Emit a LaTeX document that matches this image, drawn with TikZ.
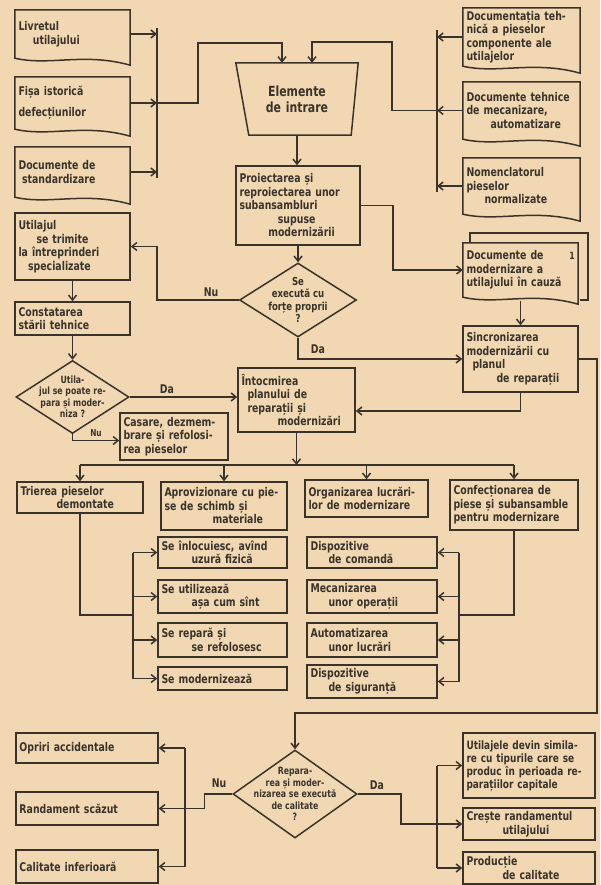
\documentclass[tikz,border=0pt]{standalone}
\usepackage{fontspec}
\setmainfont{DejaVu Sans}[FakeStretch=0.78]
\usetikzlibrary{arrows.meta,shapes.geometric,calc}
\definecolor{paper}{RGB}{241,216,178}
\definecolor{ink}{RGB}{58,51,44}
\newcommand\mydoc[1]{\draw[ln] let \p1=(#1.north west), \p2=(#1.south east) in
  (\x1,\y1) -- (\x2,\y1) -- (\x2,\y2-7pt) .. controls (\x2-0.4*\x2+0.4*\x1,\y2+6pt) and (\x1+0.3*\x2-0.3*\x1,\y2-8pt) .. (\x1,\y2) -- cycle;}
\begin{document}
\begin{tikzpicture}[x=1pt,y=-1pt,
  ln/.style={draw=ink,line width=1.5pt},
  base/.style={align=left,text=ink,inner xsep=3.5pt,inner ysep=1.5pt,font=\fontsize{12}{13.5}\selectfont\bfseries},
  bx/.style 2 args={base,rectangle,minimum width=#1,minimum height=#2,text width=#1-7pt},
  box/.style={ln},
  doc/.style={draw=none},
  dia/.style={ln,diamond,inner sep=0pt},
  dtxt/.style={align=center,text=ink,inner sep=0pt,font=\fontsize{11}{12.5}\selectfont\bfseries},
  arr/.style={ln,-{Straight Barb[length=5pt,width=8pt]}},
  lbl/.style={text=ink,inner sep=0pt,font=\fontsize{12}{13}\selectfont\bfseries}]
\fill[paper] (0,0) rectangle (600,885);
\useasboundingbox (0,0) rectangle (600,885);

% ---------- top left documents ----------
\node[bx={115pt}{48pt},doc] (d1) at (72.5,34) {Livretul\\\hspace*{1.2em}utilajului};
\node[bx={115pt}{52pt},doc] (d2) at (72.5,103) {Fișa istorică\\[7pt]defecțiunilor};
\node[bx={115pt}{50pt},doc] (d3) at (72.5,172) {Documente de\\\hspace*{0.3em}standardizare};
\mydoc{d1}\mydoc{d2}\mydoc{d3}

% ---------- top right documents ----------
\node[bx={117pt}{58pt},doc] (r1) at (521.5,37) {Documentația teh-\\nică a pieselor\\componente ale\\utilajelor};
\node[bx={117pt}{57pt},doc] (r2) at (521.5,110.5) {Documente tehnice\\de mecanizare,\\\hspace*{2em}automatizare};
\node[bx={117pt}{56pt},doc] (r3) at (521.5,186) {Nomenclatorul\\pieselor\\\hspace*{1.5em}normalizate};
\mydoc{r1}\mydoc{r2}\mydoc{r3}

% ---------- trapezium ----------
\node[bx={122pt}{72pt},doc,align=center,font=\fontsize{14}{16}\selectfont\bfseries] (te) at (297,99) {Elemente\\de intrare};
\draw[ln] (te.north west) -- (te.north east) -- ([xshift=-7pt]te.south east) -- ([xshift=13pt]te.south west) -- cycle;

% ---------- central column ----------
\node[bx={124pt}{79pt},box] (p1) at (298,205.5) {Proiectarea și\\reproiectarea unor\\subansambluri\\\hspace*{3.2em}supuse\\\hspace*{2.4em}modernizării};
\node[dia,minimum width=117pt,minimum height=74pt] (q1) at (298,300) {};
\node[dtxt] (q1t) at (q1.center) {Se\\execută cu\\forțe proprii\\?};

\node[bx={115pt}{67pt},box] (u1) at (72.5,246.5) {Utilajul\\\hspace*{1.5em}se trimite\\la întreprinderi\\\hspace*{0.8em}specializate};
\node[bx={115pt}{33pt},box] (c1) at (72.5,318.5) {Constatarea\\stării tehnice};
\node[dia,minimum width=113pt,minimum height=73pt] (q2) at (72.5,397) {};
\node[dtxt,font=\fontsize{10}{11.5}\selectfont\bfseries] (q2t) at (q2.center) {Utila-\\jul se poate re-\\para și moder-\\niza ?};
\node[bx={108pt}{47pt},box] (k1) at (174,436.5) {Casare, dezmem-\\brare și refolosi-\\rea pieselor};
\node[bx={117pt}{64pt},box] (i1) at (296.5,400) {Întocmirea\\\hspace*{0.5em}planului de\\\hspace*{0.5em}reparații și\\\hspace*{3em}modernizări};

% ---------- right middle ----------
\draw[ln] (470,243) -- (470,233) -- (588,233) -- (588,300) -- (580,300);
\node[bx={115pt}{54pt},doc] (m1) at (520.5,270) {Documente de\\modernizare a\\utilajului în cauză};
\mydoc{m1}
\node[lbl,font=\fontsize{10}{12}\selectfont\bfseries] (m1n) at (572,256) {1};
\node[bx={115pt}{66pt},box] (s1) at (520.5,359) {Sincronizarea\\modernizării cu\\\hspace*{0.5em}planul\\\hspace*{2.5em}de reparații};

% ---------- row of four ----------
\node[bx={126pt}{31pt},box] (t1) at (80,497.5) {Trierea pieselor\\\hspace*{3em}demontate};
\node[bx={126pt}{48pt},box] (a1) at (224,506) {Aprovizionare cu pie-\\se de schimb și\\\hspace*{4em}materiale};
\node[bx={123pt}{37pt},box] (o1) at (366.5,498.5) {Organizarea lucrări-\\lor de modernizare};
\node[bx={128pt}{50pt},box] (f1) at (514,505) {Confecționarea de\\piese și subansamble\\pentru modernizare};

% ---------- two columns ----------
\node[bx={129pt}{31pt},box] (b1) at (222.5,552.5) {Se înlocuiesc, avînd\\\hspace*{2.5em}uzură fizică};
\node[bx={129pt}{33pt},box] (b2) at (222.5,596.5) {Se utilizează\\\hspace*{2.5em}așa cum sînt};
\node[bx={129pt}{34pt},box] (b3) at (222.5,640) {Se repară și\\\hspace*{2.5em}se refolosesc};
\node[bx={129pt}{23pt},box] (b4) at (222.5,678.5) {Se modernizează};
\node[bx={130pt}{31pt},box] (e1) at (372,552.5) {Dispozitive\\\hspace*{1.5em}de comandă};
\node[bx={130pt}{33pt},box] (e2) at (372,596.5) {Mecanizarea\\\hspace*{1.5em}unor operații};
\node[bx={130pt}{34pt},box] (e3) at (372,640) {Automatizarea\\\hspace*{1.5em}unor lucrări};
\node[bx={130pt}{33pt},box] (e4) at (372,681.5) {Dispozitive\\\hspace*{1.5em}de siguranță};

% ---------- bottom ----------
\node[dia,minimum width=124pt,minimum height=88pt] (q3) at (295,794) {};
\node[dtxt,font=\fontsize{10}{11.5}\selectfont\bfseries] (q3t) at (q3.center) {Repara-\\rea și moder-\\nizarea se execută\\de calitate\\?};
\node[bx={142pt}{30pt},box] (l1) at (87,748) {Opriri accidentale};
\node[bx={142pt}{33pt},box] (l2) at (87,808.5) {Randament scăzut};
\node[bx={142pt}{33pt},box] (l3) at (87,866.5) {Calitate inferioară};
\node[bx={132pt}{65pt},box,font=\fontsize{11.5}{13}\selectfont\bfseries] (g1) at (529,765.5) {Utilajele devin simila-\\re cu tipurile care se\\produc în perioada re-\\parațiilor capitale};
\node[bx={132pt}{32pt},box] (g2) at (529,824) {Crește randamentul\\\hspace*{3em}utilajului};
\node[bx={132pt}{32pt},box] (g3) at (529,868) {Producție\\\hspace*{3em}de calitate};

% ---------- coordinates ----------
\coordinate (lbus) at (157,0);
\coordinate (lbt) at (157,28);
\coordinate (lbb) at (157,178);
\coordinate (rbus) at (437,0);
\coordinate (rbt) at (437,30);
\coordinate (rbb) at (437,192);
\coordinate (hz) at (0,465);
\coordinate (lb2) at (133,0);
\coordinate (j1) at (133,615);
\coordinate (rb2) at (459,0);
\coordinate (j2) at (459,615);
\coordinate (k713) at (0,713);
\coordinate (lb3) at (185,0);
\coordinate (rb3) at (437,0);

% ---------- connectors: top ----------
\draw[ln] (lbt) -- (lbb);
\foreach \n in {d1,d2,d3} \draw[arr] (\n.east) -- (\n.east -| lbus);
\draw[arr] (d2.east -| lbus) -- (198,103) |- (282,43) -- ([xshift=-15pt]te.north);
\draw[ln] (rbt) -- (rbb);
\foreach \n in {r1,r2,r3} \draw[arr] (\n.west) -- (\n.west -| rbus);
\draw[arr] (r2.west -| rbus) -- (392,110.5) |- (312,42) -- ([xshift=15pt]te.north);
\draw[arr] (te.south) -- (te.south |- p1.north);
\draw[arr] (p1.south) -- (q1.north);
\draw[arr] (p1.east) -- ++(32,0) |- (m1.west);
\draw[arr] (q1.west) -- (157,300) |- (u1.east);
\node[lbl] (nu1) at (211,292) {Nu};
\draw[arr] (q1.south) |- (s1.west);
\node[lbl] (da1) at (318,349) {Da};
\draw[arr] ([yshift=-4pt]m1.south) -- (s1.north);
\draw[arr] (s1.south) |- ([yshift=-11pt]i1.east);
\draw[arr] (s1.east) -- (597,359) -- (597,713) -- (q3.north |- k713) -- (q3.north);

% ---------- connectors: left middle ----------
\draw[arr] (u1.south) -- (c1.north);
\draw[arr] (c1.south) -- (q2.north);
\draw[arr] (q2.east) -- (q2.east -| i1.west);
\node[lbl] (da2) at (167,389) {Da};
\draw[arr] (q2.south) |- ([yshift=-4pt]k1.west);
\node[lbl,font=\fontsize{9.5}{11}\selectfont\bfseries] (nu2) at (96,433) {Nu};

% ---------- distribution row ----------
\draw[arr] (i1.south) -- (i1.south |- hz);
\draw[ln] (t1.north |- hz) -- (f1.north |- hz);
\foreach \n in {t1,a1,o1,f1} \draw[arr] (\n.north |- hz) -- (\n.north);

\draw[ln] (t1.south) |- (j1);
\draw[ln] (b1.west -| lb2) -- (b4.west -| lb2);
\foreach \n in {b1,b2,b3,b4} \draw[arr] (\n.west -| lb2) -- (\n.west);
\draw[ln] (f1.south) |- (j2);
\draw[ln] (e1.east -| rb2) -- (e4.east -| rb2);
\foreach \n in {e1,e2,e3,e4} \draw[arr] (\n.east -| rb2) -- (\n.east);

% ---------- bottom connectors ----------
\draw[ln] (q3.west) -- ++(-28,0) |- (l2.east -| lb3);
\draw[ln] (l1.east -| lb3) -- (l3.east -| lb3);
\foreach \n in {l1,l2,l3} \draw[arr] (\n.east -| lb3) -- (\n.east);
\node[lbl] (nu3) at (219,783) {Nu};
\draw[ln] (q3.east) -- ++(43,0) |- (g2.west -| rb3);
\draw[ln] (g1.west -| rb3) -- (g3.west -| rb3);
\foreach \n in {g1,g2,g3} \draw[arr] (\n.west -| rb3) -- (\n.west);
\node[lbl] (da3) at (377,785) {Da};
\end{tikzpicture}
\end{document}
